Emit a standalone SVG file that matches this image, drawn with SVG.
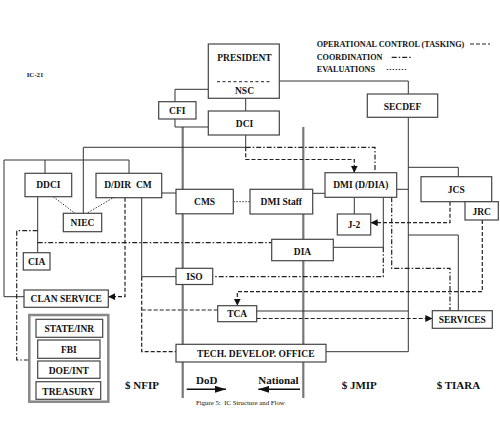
<svg xmlns="http://www.w3.org/2000/svg" width="500" height="423" viewBox="0 0 500 423">
<defs>
<style>
.box{fill:#fff;stroke:#444;stroke-width:1.2}
.t{font-family:"Liberation Serif","Times New Roman",serif;font-weight:bold;font-size:9.5px;fill:#111;text-anchor:middle}
.lg{font-family:"Liberation Serif","Times New Roman",serif;font-weight:bold;font-size:8.2px;fill:#111}
.big{font-family:"Liberation Serif","Times New Roman",serif;font-weight:bold;font-size:11px;fill:#111}
.sm{font-family:"Liberation Serif","Times New Roman",serif;font-size:6.8px;fill:#111}
.ln{fill:none;stroke:#333;stroke-width:1}
.op{fill:none;stroke:#222;stroke-width:1.2;stroke-dasharray:4 2}
.co{fill:none;stroke:#222;stroke-width:1.2;stroke-dasharray:5 2 1.5 2}
.ev{fill:none;stroke:#333;stroke-width:1;stroke-dasharray:1.5 1.5}
.div{fill:none;stroke:#777;stroke-width:2.2}
</style>
<marker id="ah" viewBox="0 0 10 10" refX="10" refY="5" markerWidth="7" markerHeight="7" markerUnits="userSpaceOnUse" orient="auto">
<path d="M0,0 L10,5 L0,10 z" fill="#111"/>
</marker>
<marker id="ahb" viewBox="0 0 10 10" refX="10" refY="5" markerWidth="11" markerHeight="7" markerUnits="userSpaceOnUse" orient="auto" preserveAspectRatio="none">
<path d="M0,0 L10,5 L0,10 z" fill="#111"/>
</marker>
</defs>
<rect width="500" height="423" fill="#fff"/>

<g id="legend">
<text class="lg" x="316.7" y="47">OPERATIONAL CONTROL (TASKING)</text>
<path class="op" d="M470,44 H490"/>
<text class="lg" x="316.7" y="59.5">COORDINATION</text>
<path class="co" d="M391.7,57.3 H412"/>
<text class="lg" x="316.7" y="72">EVALUATIONS</text>
<path class="ev" d="M386.7,69.5 H406.7"/>
<text class="sm" x="26.7" y="77" font-weight="bold">IC-21</text>
</g>

<g id="connectors">
<path class="div" d="M182.7,127 V398"/>
<path class="div" d="M303.3,127 V398"/>
<path class="ln" d="M175,102 V89.3 H208.3"/>
<path class="ln" d="M175,119 V127 H208.3"/>
<path class="ln" d="M245.7,98.3 V111"/>
<path class="ln" d="M279.3,81 H408.3 V94"/>
<path class="ln" d="M408.3,117.3 V351.7 H326"/>
<path class="ln" d="M245.7,135 V147.3 H83.3 V213.3"/>
<path class="ln" d="M4,160 H129 M45,160 V173.3 M129,160 V173.3 M4,160 V296.7 H24"/>
<path class="ln" d="M37.7,196.7 V252.7"/>
<path class="ev" d="M53.3,196.7 L75,213.3 M115,196.7 L86.7,213.3"/>
<path class="op" d="M125,197.7 V296.7 H108.3" marker-end="url(#ah)"/>
<path class="ln" d="M141.7,197.7 V276.7 H176"/>
<path class="op" d="M141.7,276.7 V351.7 H176 M141.7,310 H217.7"/>
<path class="ln" d="M161.7,193 H176"/>
<path class="ev" d="M233.3,201.7 H250"/>
<path class="ln" d="M312.7,193.3 H325"/>
<path class="ln" d="M396.7,189.3 H408.3"/>
<path class="ln" d="M354.3,197.3 V214"/>
<path class="ln" d="M408.3,167.3 H458.3 V176.7"/>
<path class="op" d="M450,201.7 V222.7 H370.7" marker-end="url(#ah)"/>
<path class="op" d="M482.3,220 V291.7 H237.3 V305.7" marker-end="url(#ah)"/>
<path class="ln" d="M256.7,311 H408.3"/>
<path class="op" d="M256.7,318.5 H432.3" marker-end="url(#ah)"/>
<path class="ln" d="M408.3,235 H458.3 V310.7"/>
<path class="co" d="M391.7,197.3 V268.3 H450 V310.7"/>
<path class="ln" d="M383.3,197.3 V247.3 H333.3"/>
<path class="co" d="M383.3,247.3 V276.7 H212.7"/>
<path class="co" d="M245.7,147.3 H375 V172.7"/>
<path class="op" d="M245.7,147.3 V159.5 H354.3 V172.7" marker-end="url(#ah)"/>
<path class="co" d="M37.7,242.7 H271.7"/>
<path class="co" d="M37.7,230.7 H16.7 V360 H29.3"/>
<path fill="none" stroke="#111" stroke-width="1.5" d="M186.7,389.3 H226" marker-end="url(#ahb)"/>
<path fill="none" stroke="#111" stroke-width="1.5" d="M300,389.3 H258.3" marker-end="url(#ahb)"/>
</g>

<g id="president">
<rect class="box" x="208.3" y="44" width="71" height="54.3"/>
<text class="t" x="244.5" y="61">PRESIDENT</text>
<path d="M217,81.7 H272" fill="none" stroke="#222" stroke-width="1" stroke-dasharray="3 2.5"/>
<text class="t" x="244.5" y="93.5">NSC</text>
</g>
<g id="cfi"><rect class="box" x="158.7" y="101.7" width="37.3" height="17.3"/><text class="t" x="177.3" y="114">CFI</text></g>
<g id="dci"><rect class="box" x="208.3" y="111" width="71" height="24"/><text class="t" x="244.5" y="126.5">DCI</text></g>
<g id="secdef"><rect class="box" x="367.3" y="94" width="70.4" height="23.3"/><text class="t" x="402.5" y="109.5">SECDEF</text></g>
<g id="ddci"><rect class="box" x="25" y="173.3" width="46.7" height="23.4"/><text class="t" x="48.3" y="188.3">DDCI</text></g>
<g id="ddir-cm"><rect class="box" x="96" y="173.3" width="65.7" height="24.4"/><text class="t" x="128" y="188.3" xml:space="preserve">D/DIR  CM</text></g>
<g id="niec"><rect class="box" x="63.3" y="213.3" width="38.4" height="18.4"/><text class="t" x="82.5" y="225.8">NIEC</text></g>
<g id="cia"><rect class="box" x="23.3" y="252.7" width="26.7" height="17.3"/><text class="t" x="36.7" y="264.8">CIA</text></g>
<g id="cms"><rect class="box" x="176" y="189.3" width="57.3" height="24.5"/><text class="t" x="204.6" y="205">CMS</text></g>
<g id="dmi-staff"><rect class="box" x="250" y="189.3" width="62.7" height="24.7"/><text class="t" x="281.3" y="205">DMI Staff</text></g>
<g id="dmi"><rect class="box" x="325" y="172.7" width="71.7" height="24.6"/><text class="t" x="360.8" y="188">DMI (D/DIA)</text></g>
<g id="j2"><rect class="box" x="337.3" y="214" width="33.4" height="21"/><text class="t" x="354" y="228.3">J-2</text></g>
<g id="jcs"><rect class="box" x="421" y="176.7" width="70.7" height="25"/><text class="t" x="456.3" y="192.8">JCS</text></g>
<g id="jrc"><rect class="box" x="465" y="201.7" width="33.3" height="18.3"/><text class="t" x="481.7" y="214.5">JRC</text></g>
<g id="dia"><rect class="box" x="271.7" y="239.3" width="61.6" height="21.4"/><text class="t" x="302.5" y="254.5">DIA</text></g>
<g id="iso"><rect class="box" x="176" y="268.3" width="36.7" height="16.2"/><text class="t" x="194.4" y="280.3">ISO</text></g>
<g id="tca"><rect class="box" x="217.7" y="305.7" width="39" height="16"/><text class="t" x="237.2" y="317">TCA</text></g>
<g id="services"><rect class="box" x="432.3" y="310.7" width="60" height="17.6"/><text class="t" x="462.3" y="323">SERVICES</text></g>
<g id="tech"><rect class="box" x="176" y="344.3" width="150" height="17.7"/><text class="t" x="255.8" y="357.3">TECH. DEVELOP. OFFICE</text></g>
<g id="clan"><rect class="box" x="24" y="290" width="84.3" height="17.3"/><text class="t" x="66.2" y="302">CLAN SERVICE</text></g>
<g id="group">
<rect x="29.3" y="315" width="79" height="86.7" fill="#fff" stroke="#888" stroke-width="2.5"/>
<rect class="box" x="36" y="319.3" width="66.7" height="18"/><text class="t" x="69.3" y="331.5">STATE/INR</text>
<rect class="box" x="37.7" y="340" width="62.3" height="18.3"/><text class="t" x="68.8" y="352.8">FBI</text>
<rect class="box" x="37.7" y="361" width="62.3" height="17.3"/><text class="t" x="68.8" y="373.5">DOE/INT</text>
<rect class="box" x="36" y="381.7" width="64.7" height="17.6"/><text class="t" x="68.3" y="394.5">TREASURY</text>
</g>
<g id="labels">
<text class="big" x="125" y="389.3">$ NFIP</text>
<text class="big" x="196" y="384.3">DoD</text>
<text class="big" x="258.3" y="384.3">National</text>
<text class="big" x="341.7" y="389.3">$ JMIP</text>
<text class="big" x="436.7" y="389.3">$ TIARA</text>
<text class="sm" x="196" y="405" font-size="6.1" xml:space="preserve">Figure 5:  IC Structure and Flow</text>
</g>
</svg>
